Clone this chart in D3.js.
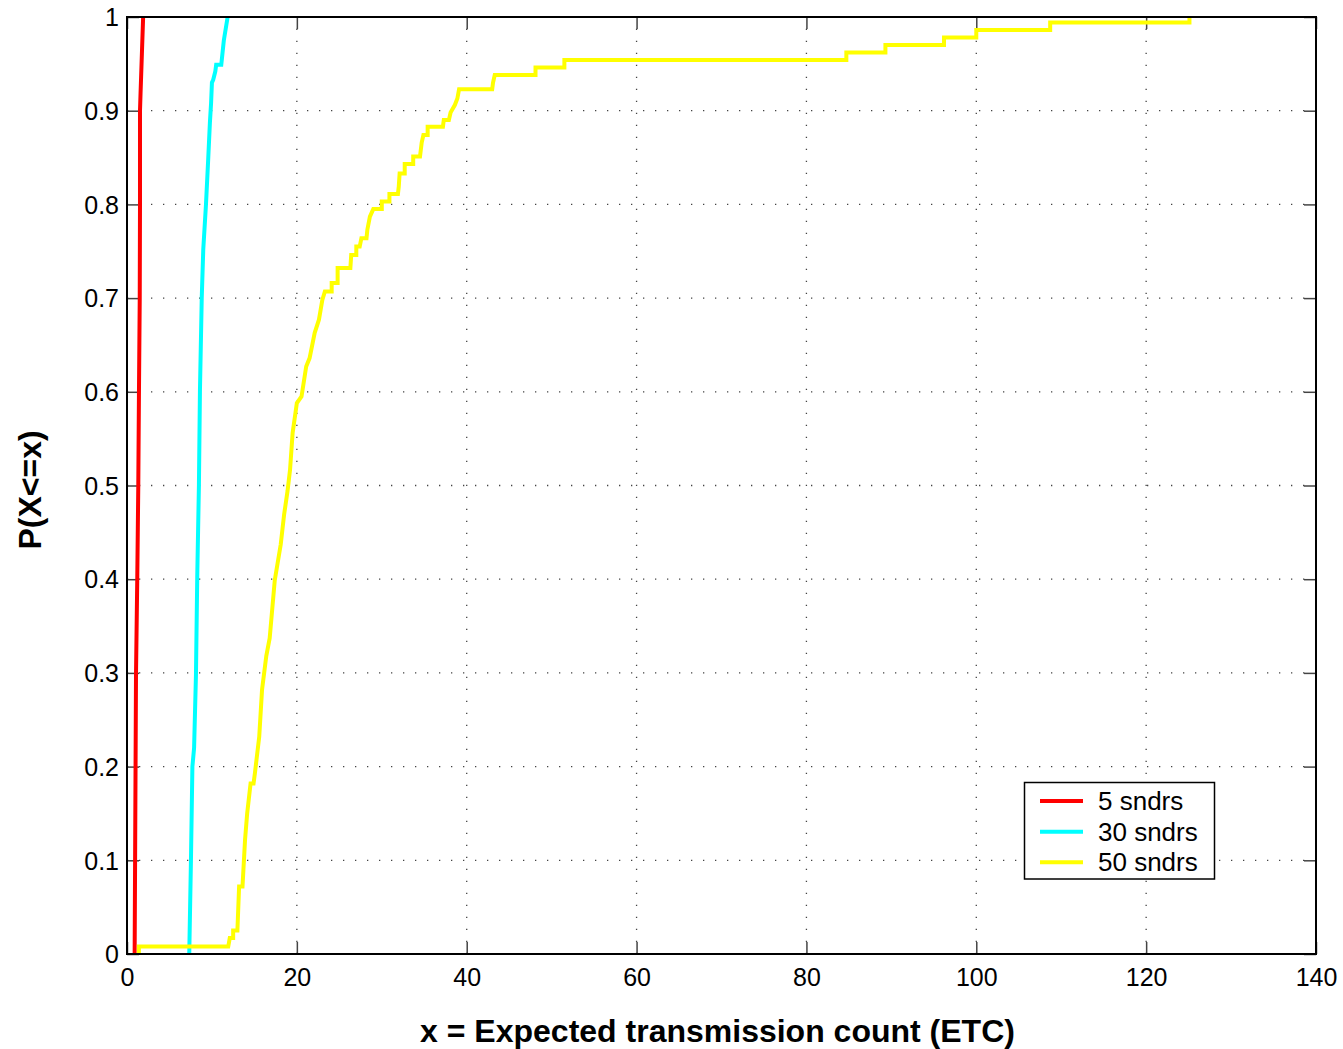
<!DOCTYPE html>
<html><head><meta charset="utf-8">
<script src="https://cdn.jsdelivr.net/npm/d3@7"></script>
<style>
html,body{margin:0;padding:0;background:#fff;}
text{font-family:"Liberation Sans",Arial,Helvetica,sans-serif;}
</style></head>
<body><svg id="chart" width="1343" height="1049"></svg>
<script>
const xTicks = [0,20,40,60,80,100,120,140];
const yTicks = [0,0.1,0.2,0.3,0.4,0.5,0.6,0.7,0.8,0.9,1];
const seriesNames = ["5 sndrs","30 sndrs","50 sndrs"];
const seriesColors = ["#ff0000","#00ffff","#ffff00"];

const red5 = [[0.9,0],[1.06,0.298],[1.21,0.402],[1.33,0.501],[1.41,0.602],[1.5,0.70],[1.53,0.8],[1.53,0.9],[1.6,0.92],[1.9,1.0]];
const cyan30 = [[7.33,0],[7.53,0.1],[7.7,0.2],[7.9,0.22],[8.12,0.298],[8.27,0.402],[8.47,0.501],[8.59,0.602],[8.8,0.70],[8.98,0.752],[9.3,0.8],[9.56,0.848],[9.76,0.887],[9.9,0.908],[10.0,0.93],[10.15,0.933],[10.4,0.942],[10.5,0.949],[11.1,0.949],[11.4,0.975],[11.85,1.0]];
const yellow50 = [[1.4,0],[1.4,0.008],[11.92,0.008],[12.1,0.017],[12.5,0.017],[12.5,0.025],[13.0,0.025],[13.2,0.072],[13.6,0.072],[13.9,0.122],[14.15,0.15],[14.55,0.182],[14.9,0.182],[15.06,0.193],[15.57,0.232],[15.9,0.282],[16.4,0.318],[16.8,0.337],[17.4,0.399],[18.1,0.437],[18.5,0.469],[18.9,0.494],[19.2,0.517],[19.5,0.556],[20.0,0.588],[20.55,0.595],[21.1,0.627],[21.5,0.636],[22.1,0.663],[22.6,0.677],[23.0,0.698],[23.3,0.707],[24.1,0.707],[24.1,0.716],[24.8,0.716],[24.8,0.732],[26.3,0.732],[26.4,0.746],[27.0,0.746],[27.0,0.755],[27.4,0.755],[27.6,0.764],[28.2,0.764],[28.3,0.773],[28.6,0.787],[29.0,0.795],[30.0,0.795],[30.0,0.803],[30.9,0.803],[30.9,0.811],[31.9,0.811],[32.0,0.819],[32.1,0.833],[32.7,0.833],[32.7,0.843],[33.7,0.843],[33.7,0.851],[34.5,0.851],[34.7,0.866],[34.9,0.874],[35.4,0.874],[35.4,0.883],[37.2,0.883],[37.3,0.890],[37.9,0.890],[38.1,0.898],[38.6,0.906],[38.9,0.913],[39.1,0.923],[43.0,0.923],[43.1,0.93],[43.3,0.938],[48.1,0.938],[48.1,0.946],[51.5,0.946],[51.5,0.954],[84.7,0.954],[84.7,0.962],[89.3,0.962],[89.3,0.970],[96.2,0.970],[96.2,0.978],[100,0.978],[100,0.986],[108.7,0.986],[108.7,0.994],[125.1,0.994],[125.1,1.0]];
const seriesData = [red5, cyan30, yellow50];

const svg = d3.select("#chart");
const L = 127, R = 1316, T = 17, B = 954;
const x = d3.scaleLinear().domain([0,140]).range([L,R]);
const y = d3.scaleLinear().domain([0,1]).range([B,T]);

// grid
const grid = svg.append("g");
grid.selectAll("line.gx").data(xTicks.slice(1,-1)).enter().append("line")
  .attr("x1",d=>x(d)).attr("x2",d=>x(d)).attr("y1",B).attr("y2",T)
  .attr("stroke","#444").attr("stroke-width",1.3).attr("stroke-dasharray","1.3,10.7");
grid.selectAll("line.gy").data(yTicks.slice(1,-1)).enter().append("line")
  .attr("y1",d=>y(d)).attr("y2",d=>y(d)).attr("x1",L).attr("x2",R)
  .attr("stroke","#444").attr("stroke-width",1.3).attr("stroke-dasharray","1.3,10.7");

// axes (inward ticks)
const fmt = d => d3.format("~g")(d);
const axB = svg.append("g").attr("transform",`translate(0,${B})`)
  .call(d3.axisBottom(x).tickValues(xTicks).tickFormat(fmt).tickSizeInner(-12).tickSizeOuter(0).tickPadding(14));
const axT = svg.append("g").attr("transform",`translate(0,${T})`)
  .call(d3.axisTop(x).tickValues(xTicks).tickFormat("").tickSizeInner(-12).tickSizeOuter(0));
const axL = svg.append("g").attr("transform",`translate(${L},0)`)
  .call(d3.axisLeft(y).tickValues(yTicks).tickFormat(fmt).tickSizeInner(-12).tickSizeOuter(0).tickPadding(8));
const axR = svg.append("g").attr("transform",`translate(${R},0)`)
  .call(d3.axisRight(y).tickValues(yTicks).tickFormat("").tickSizeInner(-12).tickSizeOuter(0));
[axB,axT,axL,axR].forEach(a=>{
  a.select(".domain").remove();
  a.selectAll(".tick line").attr("stroke","#444").attr("stroke-width",1.5);
  a.selectAll("text").attr("font-size",25).attr("fill","#000")
   .attr("font-family",'"Liberation Sans",Arial,sans-serif');
});
axB.selectAll("text").attr("dy","0.71em").attr("y",14);
axL.selectAll("text").attr("dy","0.35em");

// lines
const line = d3.line().x(d=>x(d[0])).y(d=>y(d[1]));
svg.append("g").selectAll("path").data(seriesData).enter().append("path")
  .attr("d",line).attr("fill","none")
  .attr("stroke",(d,i)=>seriesColors[i]).attr("stroke-width",4)
  .attr("stroke-linejoin","miter").attr("stroke-linecap","butt");

// frame
svg.append("rect").attr("x",L).attr("y",T).attr("width",R-L).attr("height",B-T)
  .attr("fill","none").attr("stroke","#000").attr("stroke-width",2);

// axis labels
svg.append("text").attr("x",(L+R)/2-4).attr("y",1042).attr("text-anchor","middle")
  .attr("font-size",32).attr("font-weight","bold").text("x = Expected transmission count (ETC)");
svg.append("text").attr("transform",`translate(41,490) rotate(-90)`).attr("text-anchor","middle")
  .attr("font-size",32).attr("font-weight","bold").text("P(X<=x)");

// legend
const lg = svg.append("g");
lg.append("rect").attr("x",1024.5).attr("y",782.5).attr("width",190).attr("height",96.5)
  .attr("fill","#fff").attr("stroke","#000").attr("stroke-width",1.5);
const ly = [801,831.7,862.3];
seriesNames.forEach((n,i)=>{
  lg.append("line").attr("x1",1040).attr("x2",1083).attr("y1",ly[i]).attr("y2",ly[i])
    .attr("stroke",seriesColors[i]).attr("stroke-width",4);
  lg.append("text").attr("x",1098).attr("y",ly[i]+9).attr("font-size",26).text(n);
});
</script></body></html>
